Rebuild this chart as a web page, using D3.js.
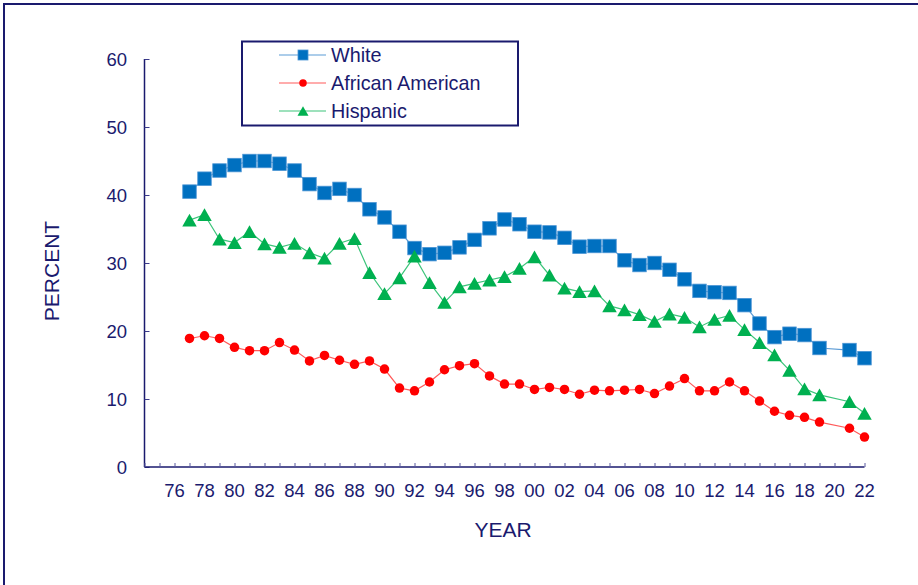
<!DOCTYPE html>
<html><head><meta charset="utf-8">
<script src="https://cdn.jsdelivr.net/npm/d3@7"></script>
<style>html,body{margin:0;padding:0;background:#fff;}svg{display:block;font-family:"Liberation Sans",Arial,sans-serif;}</style>
</head><body>
<svg id="chart" width="918" height="585"></svg>
<script>
const years = [1977,1978,1979,1980,1981,1982,1983,1984,1985,1986,1987,1988,1989,1990,1991,1992,1993,1994,1995,1996,1997,1998,1999,2000,2001,2002,2003,2004,2005,2006,2007,2008,2009,2010,2011,2012,2013,2014,2015,2016,2017,2018,2019,2020,2021,2022];
const white = [40.5,42.4,43.6,44.4,45.0,45.0,44.6,43.6,41.6,40.3,40.9,40.0,37.9,36.7,34.6,32.2,31.3,31.5,32.3,33.4,35.1,36.4,35.7,34.6,34.5,33.7,32.4,32.5,32.5,30.4,29.7,30.0,29.0,27.6,25.9,25.7,25.6,23.8,21.1,19.1,19.6,19.4,17.5,null,17.2,16.0];
const africanAmerican = [18.9,19.3,18.9,17.6,17.1,17.1,18.3,17.2,15.6,16.4,15.7,15.1,15.6,14.4,11.6,11.2,12.5,14.3,14.9,15.2,13.4,12.2,12.2,11.4,11.7,11.4,10.7,11.3,11.2,11.3,11.4,10.8,11.9,13.0,11.2,11.2,12.5,11.2,9.7,8.2,7.6,7.3,6.6,null,5.7,4.4];
const hispanic = [36.3,37.1,33.5,33.0,34.6,32.8,32.3,32.9,31.5,30.7,32.9,33.6,28.6,25.5,27.8,31.0,27.1,24.2,26.5,27.0,27.5,28.0,29.2,30.9,28.2,26.3,25.8,25.9,23.7,23.1,22.4,21.4,22.5,22.0,20.6,21.7,22.3,20.2,18.3,16.5,14.2,11.5,10.6,null,9.6,7.9];
const seriesNames = ["White","African American","Hispanic"];
const yTicks = [0,10,20,30,40,50,60];
const xLabelYears = d3.range(1976, 2023, 2);
const xTickYears = d3.range(1974, 2023, 1);

const navy = "#1a1a6e";
const svg = d3.select("#chart");

// outer frame
svg.append("rect").attr("x",4).attr("y",4).attr("width",1000).attr("height",1000)
  .attr("fill","none").attr("stroke",navy).attr("stroke-width",2);

const x = d3.scaleLinear().domain([1974, 2022]).range([144.5, 864.5]);
const y = d3.scaleLinear().domain([0, 60]).range([467, 59]);

// axes
const yAxis = d3.axisRight(y).tickValues(yTicks).tickSize(5).tickFormat("");
const gy = svg.append("g").attr("transform","translate(144.5,0)").call(yAxis);
gy.select(".domain").attr("stroke",navy).attr("stroke-width",1.5).attr("d","M0,"+y(60)+"V"+y(0));
gy.selectAll(".tick line").attr("stroke","#3a3a8a");

const xAxis = d3.axisTop(x).tickValues(xTickYears).tickSize(4).tickFormat("");
const gx = svg.append("g").attr("transform","translate(0,467)").call(xAxis);
gx.select(".domain").attr("stroke",navy).attr("stroke-width",1.5).attr("d","M"+x(1974)+",0H"+x(2022));
gx.selectAll(".tick line").attr("stroke","#5a5aa0");

// tick labels
svg.append("g").selectAll("text").data(yTicks).join("text")
  .attr("x",127).attr("y",d=>y(d)+6.5).attr("text-anchor","end")
  .attr("font-size",18.5).attr("fill",navy).text(d=>d);
svg.append("g").selectAll("text").data(xLabelYears).join("text")
  .attr("x",d=>x(d)).attr("y",497).attr("text-anchor","middle")
  .attr("font-size",18.5).attr("fill",navy).text(d=>String(d%100).padStart(2,"0"));

// axis titles
svg.append("text").attr("x",503).attr("y",537).attr("text-anchor","middle")
  .attr("font-size",21).attr("fill",navy).text("YEAR");
svg.append("text").attr("transform","translate(59,271) rotate(-90)").attr("text-anchor","middle")
  .attr("font-size",21).attr("fill",navy).text("PERCENT");

// series
const series = [
  {name:seriesNames[0], values:white, fill:"#0070C0", line:"#5b9bd5", shape:"square"},
  {name:seriesNames[1], values:africanAmerican, fill:"#FF0000", line:"#ff5a5a", shape:"circle"},
  {name:seriesNames[2], values:hispanic, fill:"#00B050", line:"#3cc47a", shape:"triangle"}
];
function drawMarker(g, shape, fill, s){
  if(shape==="square"){
    g.append("rect").attr("x",-s/2).attr("y",-s/2).attr("width",s).attr("height",s)
     .attr("fill",fill).attr("stroke","#4a94d4").attr("stroke-width",0.8);
  } else if(shape==="circle"){
    g.append("circle").attr("r",s/2).attr("fill",fill);
  } else {
    const h = s*0.88;
    g.append("path").attr("d",`M0,${-h/2}L${s/2},${h/2}L${-s/2},${h/2}Z`).attr("fill",fill);
  }
}
const line = d3.line().x(d=>x(d.year)).y(d=>y(d.v));
series.forEach(s=>{
  const pts = years.map((yr,i)=>({year:yr, v:s.values[i]})).filter(d=>d.v!=null);
  svg.append("path").datum(pts).attr("d",line).attr("fill","none")
    .attr("stroke",s.line).attr("stroke-width",1.2);
  const size = s.shape==="square"?13.5:(s.shape==="circle"?9.5:14.5);
  pts.forEach(p=>{
    const g = svg.append("g").attr("transform",`translate(${x(p.year)},${y(p.v)})`);
    drawMarker(g, s.shape, s.fill, size);
  });
});

// legend
const lg = svg.append("g");
lg.append("rect").attr("x",242).attr("y",41.5).attr("width",276).attr("height",84)
  .attr("fill","#fff").attr("stroke",navy).attr("stroke-width",2);
const rowsY = [55,83,111];
series.forEach((s,i)=>{
  lg.append("line").attr("x1",279).attr("x2",326).attr("y1",rowsY[i]).attr("y2",rowsY[i])
    .attr("stroke",s.line).attr("stroke-width",1.2);
  const g = lg.append("g").attr("transform",`translate(303,${rowsY[i]})`);
  drawMarker(g, s.shape, s.fill, s.shape==="square"?10:(s.shape==="circle"?7.5:11));
  lg.append("text").attr("x",331).attr("y",rowsY[i]+7).attr("font-size",19.8)
    .attr("fill",navy).text(s.name);
});
</script>
</body></html>
